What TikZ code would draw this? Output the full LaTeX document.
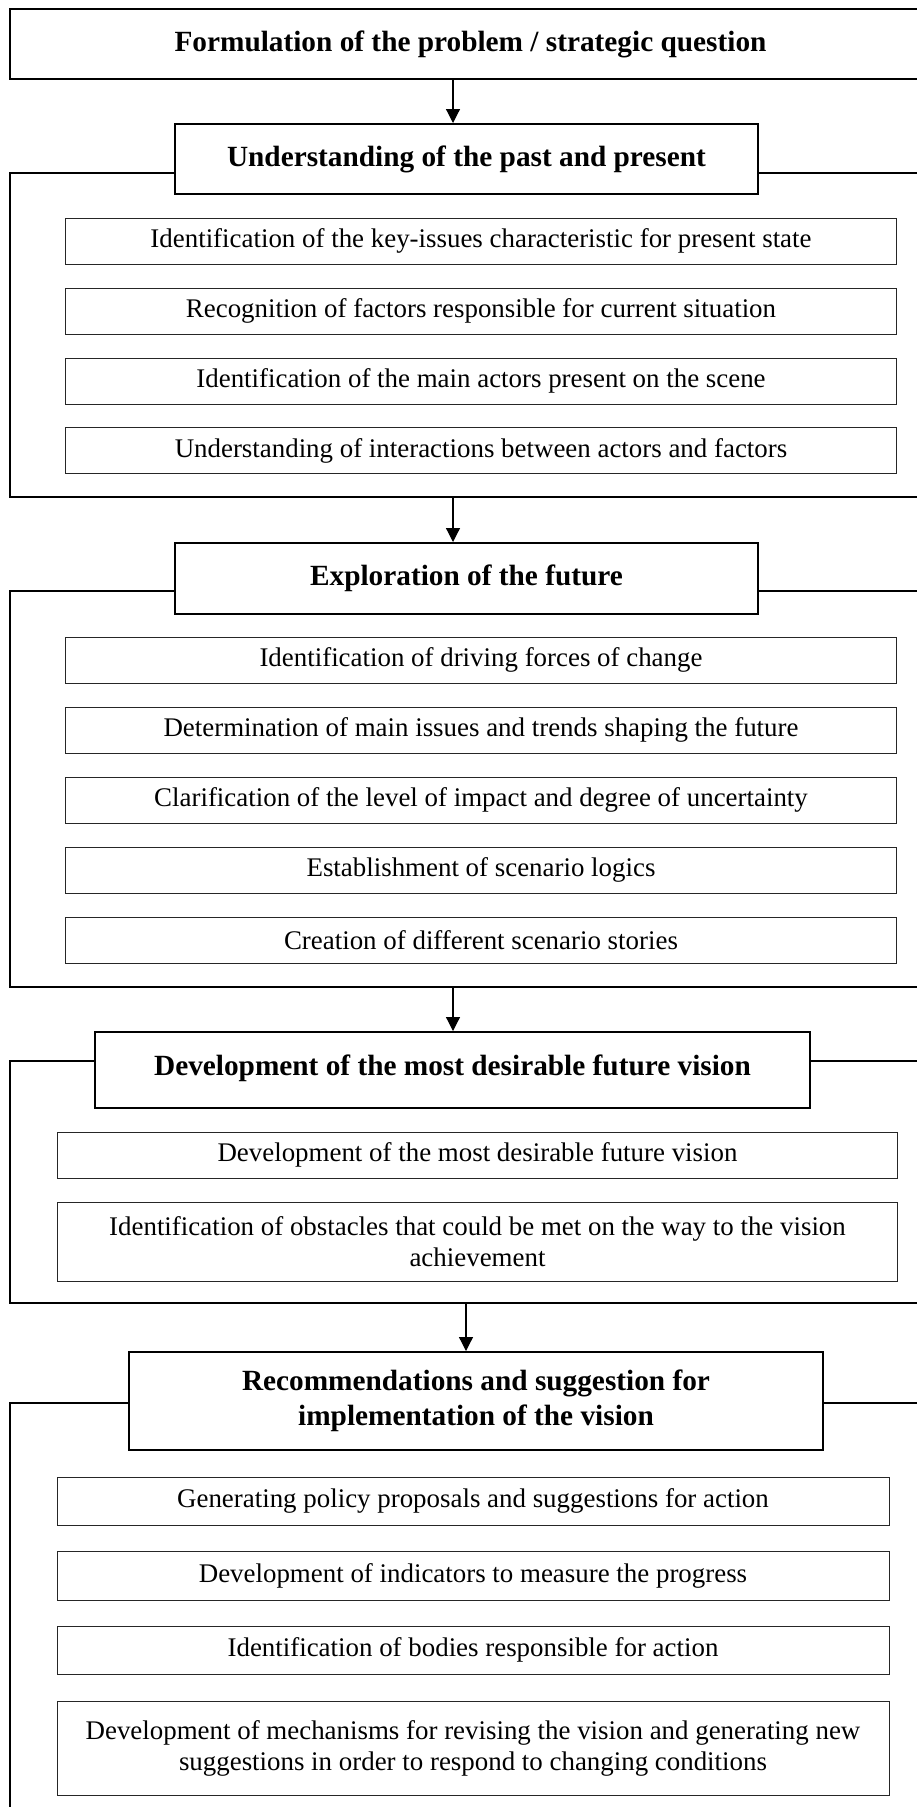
\documentclass[tikz,border=0pt]{standalone}
\usepackage{fontspec}
\setmainfont{Liberation Serif}
\usetikzlibrary{arrows.meta}
\begin{document}
\begin{tikzpicture}[x=1pt,y=-1pt,
  frame/.style={draw, line width=2pt, anchor=north west, inner sep=0pt, minimum width=921pt},
  hdr/.style={draw, fill=white, line width=2pt, align=center, inner sep=0pt, font=\fontsize{29.3}{35}\selectfont\bfseries},
  item/.style={draw=black!85, fill=white, line width=1pt, align=center, inner sep=0pt, font=\fontsize{26.9}{31}\selectfont},
  flow/.style={line width=1.2pt, -{Triangle[width=14pt,length=14pt]}}]
\useasboundingbox (0,0) rectangle (917,1807);
\clip (0,0) rectangle (917,1807);
\coordinate (ax) at (453,0);
\coordinate (bx) at (466,0);

% top box
\node[hdr, anchor=north west, minimum width=921pt, minimum height=70pt] (form) at (9,8) {Formulation of the problem / strategic question};

% frames
\node[frame, minimum height=324pt] (f1) at (9,172) {};
\node[frame, minimum height=396pt] (f2) at (9,590) {};
\node[frame, minimum height=242pt] (f3) at (9,1060) {};
\node[frame, minimum height=450pt] (f4) at (9,1402) {};

% headers
\node[hdr, minimum width=583pt, minimum height=70pt] (h1) at (466.5,159) {Understanding of the past and present};
\node[hdr, minimum width=583pt, minimum height=71pt] (h2) at (466.5,578.5) {Exploration of the future};
\node[hdr, minimum width=715pt, minimum height=76pt] (h3) at (452.5,1070) {\raisebox{10pt}{Development of the most desirable future vision}};
\node[hdr, minimum width=694pt, minimum height=98pt] (h4) at (476,1401) {Recommendations and suggestion for\\implementation of the vision};

% section 1 items
\node[item, minimum width=831pt, minimum height=46pt] (i11) at (481,241) {Identification of the key-issues characteristic for present state};
\node[item, minimum width=831pt, minimum height=46pt] (i12) at (481,311) {Recognition of factors responsible for current situation};
\node[item, minimum width=831pt, minimum height=46pt] (i13) at (481,381) {Identification of the main actors present on the scene};
\node[item, minimum width=831pt, minimum height=46pt] (i14) at (481,450.5) {Understanding of interactions between actors and factors};

% section 2 items
\node[item, minimum width=831pt, minimum height=46pt] (i21) at (481,660) {Identification of driving forces of change};
\node[item, minimum width=831pt, minimum height=46pt] (i22) at (481,730) {Determination of main issues and trends shaping the future};
\node[item, minimum width=831pt, minimum height=46pt] (i23) at (481,800) {Clarification of the level of impact and degree of uncertainty};
\node[item, minimum width=831pt, minimum height=46pt] (i24) at (481,870) {Establishment of scenario logics};
\node[item, minimum width=831pt, minimum height=46pt] (i25) at (481,940) {Creation of different scenario stories};

% section 3 items
\node[item, minimum width=840pt, minimum height=46pt] (i31) at (477.5,1155) {Development of the most desirable future vision};
\node[item, minimum width=840pt, minimum height=79pt] (i32) at (477.5,1242) {Identification of obstacles that could be met on the way to the vision\\achievement};

% section 4 items
\node[item, minimum width=832pt, minimum height=48pt] (i41) at (473,1501) {Generating policy proposals and suggestions for action};
\node[item, minimum width=832pt, minimum height=49pt] (i42) at (473,1575.5) {Development of indicators to measure the progress};
\node[item, minimum width=832pt, minimum height=48pt] (i43) at (473,1650) {Identification of bodies responsible for action};
\node[item, minimum width=832pt, minimum height=94pt] (i44) at (473,1748) {Development of mechanisms for revising the vision and generating new\\suggestions in order to respond to changing conditions};

% connectors
\draw[flow] (form.south -| ax) -- (h1.north -| ax);
\draw[flow] (f1.south -| ax) -- (h2.north -| ax);
\draw[flow] (f2.south -| ax) -- (h3.north -| ax);
\draw[flow] (f3.south -| bx) -- (h4.north -| bx);
\end{tikzpicture}
\end{document}
